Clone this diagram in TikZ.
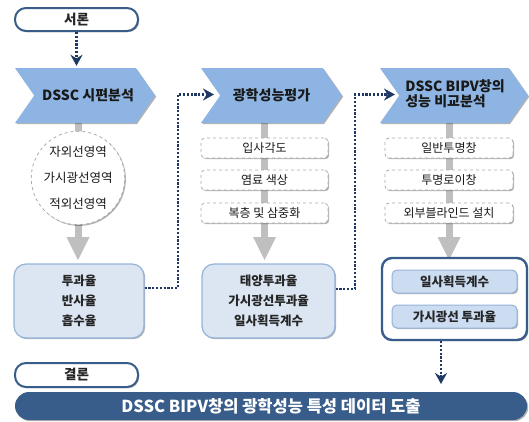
\documentclass[tikz,border=0pt]{standalone}
\usepackage{fontspec}
\setmainfont{Noto Sans CJK KR}
\usetikzlibrary{shapes.symbols,shadows,arrows.meta,calc}
\definecolor{navy}{RGB}{31,56,100}
\definecolor{barblue}{RGB}{56,93,138}
\definecolor{chev}{RGB}{141,180,226}
\definecolor{resfill}{RGB}{220,230,242}
\definecolor{resborder}{RGB}{149,179,215}
\definecolor{stemgray}{RGB}{191,191,191}
\definecolor{dashgray}{RGB}{170,170,170}
\definecolor{innerfill}{RGB}{204,221,242}
\tikzset{
  softshadow/.style={drop shadow={shadow xshift=1.2pt, shadow yshift=-1.2pt, opacity=0.3, fill=black}},
  pill/.style={draw=barblue, line width=2pt, fill=white, rounded corners=11pt, minimum width=123pt, minimum height=23pt, inner sep=0pt, font=\bfseries\fontsize{13.5}{15}\selectfont, text=black!85, softshadow},
  chevron/.style={shape=signal, signal to=east, signal from=west, signal pointer angle=110, fill=chev, draw=none, minimum height=55pt, inner sep=0pt, font=\bfseries\fontsize{14}{17}\selectfont, text=black!90, softshadow},
  itembox/.style={draw=dashgray, dashed, line width=0.8pt, fill=white, rounded corners=4pt, minimum width=127pt, minimum height=20pt, inner sep=0pt, font=\fontsize{12}{13}\selectfont, text=black!90, softshadow},
  ringnode/.style={circle, draw=dashgray, dashed, line width=0.8pt, fill=white, minimum size=89pt, inner sep=0pt, align=center, font=\fontsize{12.5}{26}\selectfont, text=black!90, softshadow},
  resbox/.style={draw=resborder, line width=1.2pt, fill=resfill, rounded corners=12pt, inner sep=0pt, align=center, font=\bfseries\fontsize{12.5}{20}\selectfont, text=black!85, softshadow},
  outerbox/.style={draw=barblue, line width=2.4pt, fill=white, rounded corners=10pt, inner sep=0pt, softshadow},
  innerbox/.style={draw=resborder, line width=1pt, fill=innerfill, rounded corners=5pt, minimum width=125pt, minimum height=23pt, inner sep=0pt, font=\bfseries\fontsize{12.5}{14}\selectfont, text=black!85, softshadow},
  barbox/.style={fill=barblue, rounded corners=14pt, minimum width=512pt, minimum height=28pt, inner sep=0pt, font=\bfseries\fontsize{16.5}{18}\selectfont, text=white, softshadow},
  stemline/.style={draw=stemgray, line width=7pt},
  dotarrow/.style={draw=navy, line width=2.4pt, dash pattern=on 2.2pt off 1.6pt, -{Stealth[length=11pt,width=12pt]}}
}
\begin{document}
\begin{tikzpicture}[x=1pt,y=-1pt]
\useasboundingbox (0,0) rectangle (529,421);

% gray stems (behind)
\coordinate (s1t) at (78,120);
\coordinate (s2t) at (264.5,120);
\coordinate (s3t) at (449,120);
\coordinate (s1b) at (78,240);
\coordinate (s2b) at (264.5,240);
\coordinate (s3b) at (449,240);
\draw[stemline] (s1t) -- (s1b);
\draw[stemline] (s2t) -- (s2b);
\draw[stemline] (s3t) -- (s3b);
\fill[stemgray] (66.5,237) -- (89.5,237) -- (78,260) -- cycle;
\fill[stemgray] (253,237) -- (276,237) -- (264.5,260) -- cycle;
\fill[stemgray] (437.5,237) -- (460.5,237) -- (449,260) -- cycle;

% intro
\node[pill] (intro) at (76.5,19.5) {서론};

% chevrons
\node[chevron, minimum width=140pt] (c1) at (85,95.5) {\hspace*{6pt}DSSC 시편분석};
\node[chevron, minimum width=141pt] (c2) at (271.5,95.5) {광학성능평가};
\node[chevron, minimum width=148pt, align=left] (c3) at (454,95.5) {\hspace*{2pt}\begin{tabular}{@{}l@{}}DSSC BIPV창의\\[-2pt]성능 비교분석\end{tabular}};

% column 1
\node[ringnode] (ring) at (78,178) {자외선영역\\가시광선영역\\적외선영역};
\node[resbox, minimum width=130pt, minimum height=74pt] (res1) at (79,301) {투과율\\반사율\\흡수율};

% column 2
\node[itembox] (i21) at (264.5,148) {입사각도};
\node[itembox] (i22) at (264.5,180) {염료 색상};
\node[itembox] (i23) at (264.5,213) {복층 및 삼중화};
\node[resbox, minimum width=133pt, minimum height=74pt] (res2) at (268.5,301) {태양투과율\\가시광선투과율\\일사획득계수};

% column 3
\node[itembox, minimum width=128pt] (i31) at (449,148) {일반투명창};
\node[itembox, minimum width=128pt] (i32) at (449,180) {투명로이창};
\node[itembox, minimum width=128pt] (i33) at (449,213) {외부블라인드 설치};
\node[outerbox, minimum width=145pt, minimum height=82pt] (res3) at (454.5,299) {};
\node[innerbox] (in1) at (454.5,281.5) {일사획득계수};
\node[innerbox] (in2) at (454.5,316.5) {가시광선 투과율};

% conclusion
\node[pill, minimum height=24pt] (concl) at (76.5,375) {결론};
\node[barbox] (bar) at (271,406) {DSSC BIPV창의 광학성능 특성 데이터 도출};

% dotted connectors
\coordinate (j1) at (178,94.5);
\coordinate (c2in) at (214,94.5);
\coordinate (j2) at (355,94.5);
\coordinate (c3in) at (395,94.5);
\coordinate (barin) at (441,384);
\draw[dotarrow, shorten >=2pt] (intro.south) -- (intro.south |- c1.north);
\draw[dotarrow] ([yshift=13pt]res1.east) -| (j1) -- (c2in);
\draw[dotarrow] ([yshift=12pt]res2.east) -| (j2) -- (c3in);
\draw[dotarrow] ([xshift=-13.5pt]res3.south) -- (barin);
\end{tikzpicture}
\end{document}
